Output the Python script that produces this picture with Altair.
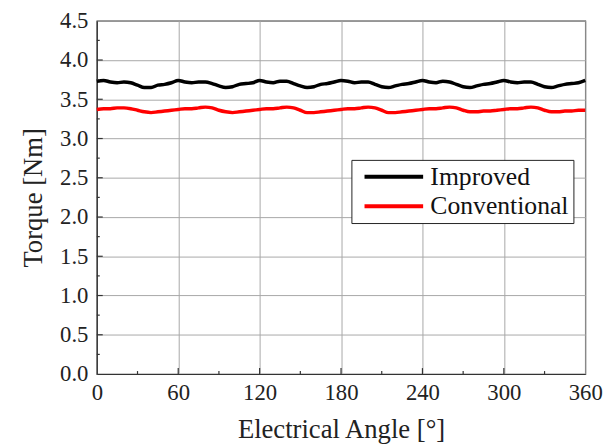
import altair as alt
import pandas as pd

angles = list(range(0, 361, 5))
improved = [3.73, 3.74, 3.72, 3.71, 3.72, 3.71, 3.68, 3.65, 3.65, 3.68, 3.69, 3.71,
            3.74, 3.72, 3.71, 3.72, 3.72, 3.70, 3.67, 3.65, 3.66, 3.69, 3.70, 3.71,
            3.74, 3.72, 3.71, 3.73, 3.73, 3.70, 3.67, 3.65, 3.66, 3.69, 3.70, 3.72,
            3.74, 3.73, 3.71, 3.72, 3.72, 3.69, 3.66, 3.65, 3.67, 3.69, 3.70, 3.72,
            3.74, 3.72, 3.71, 3.73, 3.72, 3.69, 3.66, 3.65, 3.67, 3.69, 3.70, 3.72,
            3.74, 3.72, 3.71, 3.72, 3.72, 3.69, 3.66, 3.65, 3.67, 3.69, 3.70, 3.71,
            3.74]
conventional = [3.37, 3.38, 3.38, 3.39, 3.39, 3.38, 3.36, 3.34, 3.33, 3.34, 3.35, 3.36,
                3.37, 3.38, 3.38, 3.39, 3.40, 3.39, 3.36, 3.34, 3.33, 3.34, 3.35, 3.36,
                3.37, 3.38, 3.38, 3.39, 3.40, 3.39, 3.36, 3.33, 3.33, 3.34, 3.35, 3.36,
                3.37, 3.38, 3.38, 3.39, 3.40, 3.39, 3.36, 3.33, 3.33, 3.34, 3.35, 3.36,
                3.37, 3.38, 3.38, 3.39, 3.40, 3.39, 3.36, 3.34, 3.34, 3.35, 3.35, 3.36,
                3.37, 3.38, 3.38, 3.39, 3.40, 3.39, 3.36, 3.34, 3.34, 3.35, 3.35, 3.36,
                3.36]
series_names = ["Improved", "Conventional"]
series_colors = ["#000000", "#ff0000"]

x_major = [0, 60, 120, 180, 240, 300, 360]
x_minor = [30, 90, 150, 210, 270, 330]
y_major = [0.0, 0.5, 1.0, 1.5, 2.0, 2.5, 3.0, 3.5, 4.0, 4.5]
y_minor = [0.25, 0.75, 1.25, 1.75, 2.25, 2.75, 3.25, 3.75, 4.25]

FONT = "Liberation Serif"
AXFONT = "'Liberation Serif', serif"
W, H = 495, 358

df = pd.DataFrame({
    "angle": angles * 2,
    "torque": improved + conventional,
    "series": ["Improved"] * len(angles) + ["Conventional"] * len(angles),
})

xscale = alt.Scale(domain=[0, 360], nice=False, zero=False)
yscale = alt.Scale(domain=[0, 4.5], nice=False, zero=False)

xaxis = alt.Axis(title="Electrical Angle [°]", values=x_major, format="d",
                 labelPadding=8, titlePadding=12, labelFont=AXFONT, titleFont=AXFONT)
yaxis = alt.Axis(title="Torque [Nm]", values=y_major, format=".1f",
                 labelPadding=9, titlePadding=12, labelFont=AXFONT, titleFont=AXFONT)

lines = alt.Chart(df).mark_line(strokeWidth=3.5, interpolate="monotone").encode(
    x=alt.X("angle:Q", scale=xscale, axis=xaxis),
    y=alt.Y("torque:Q", scale=yscale, axis=yaxis),
    color=alt.Color("series:N",
                    scale=alt.Scale(domain=series_names, range=series_colors),
                    legend=alt.Legend(title=None, orient="none", legendX=258, legendY=141,
                                      symbolType="M-3.3,0H3.3", symbolSize=324,
                                      symbolStrokeWidth=4, symbolOffset=26,
                                      labelFont=FONT, labelFontSize=26,
                                      labelColor="#111", fillColor="white",
                                      strokeColor="#222", padding=4, rowPadding=4,
                                      labelOffset=24, labelLimit=300)),
)

xt_major = pd.DataFrame({"v": x_major[1:-1]})
xt_minor = pd.DataFrame({"v": x_minor})
yt_major = pd.DataFrame({"v": y_major[1:-1]})
yt_minor = pd.DataFrame({"v": y_minor})

tick_col = "#333"
xmaj = alt.Chart(xt_major).mark_rule(color=tick_col, strokeWidth=1.2).encode(
    x=alt.X("v:Q", scale=xscale, axis=xaxis), y=alt.value(H), y2=alt.value(H - 6))
xmin = alt.Chart(xt_minor).mark_rule(color=tick_col, strokeWidth=1.2).encode(
    x=alt.X("v:Q", scale=xscale, axis=xaxis), y=alt.value(H), y2=alt.value(H - 3))
ymaj = alt.Chart(yt_major).mark_rule(color=tick_col, strokeWidth=1.2).encode(
    y=alt.Y("v:Q", scale=yscale, axis=yaxis), x=alt.value(0), x2=alt.value(6))
ymin = alt.Chart(yt_minor).mark_rule(color=tick_col, strokeWidth=1.2).encode(
    y=alt.Y("v:Q", scale=yscale, axis=yaxis), x=alt.value(0), x2=alt.value(3))

chart = alt.layer(lines, xmaj, xmin, ymaj, ymin).properties(
    width=W, height=H, background="white",
    padding={"left": 90, "top": 10, "right": 20, "bottom": 69},
    autosize=alt.AutoSizeParams(type="none"),
).configure(
    font=AXFONT
).configure_view(
    stroke="#333", strokeWidth=1.2
).configure_axis(
    grid=True, gridColor="#a8a8a8", gridWidth=1, ticks=False,
    labelFontSize=23, labelFont=AXFONT, titleFont=AXFONT,
    titleFontSize=27, titleFontWeight="normal", labelColor="#222",
    titleColor="#222", domainColor="#333", domainWidth=1.2,
    labelFlush=False, labelOverlap=False
)

chart.save("out.html", embed_options={"renderer": "svg", "actions": False})
